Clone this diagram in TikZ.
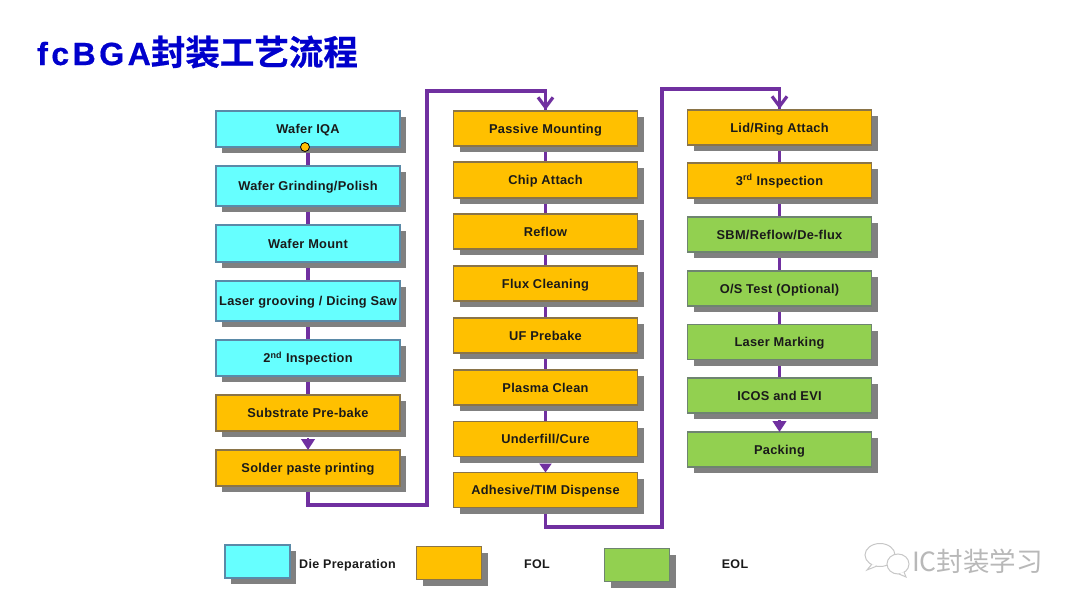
\documentclass[tikz,border=0pt]{standalone}
\usepackage{fontspec}
\setmainfont{Liberation Sans}
\newfontfamily\cjkf{Noto Sans CJK SC}[BoldFont={Noto Sans CJK SC Bold}]
\newfontfamily\titlecjk{Noto Sans CJK SC Bold}[FakeBold=0.6]
\newfontfamily\titlelat{Liberation Sans Bold}[FakeBold=0.6,LetterSpace=11]
\usetikzlibrary{shadows,backgrounds,arrows.meta}
\definecolor{cy}{HTML}{66FFFF}
\definecolor{og}{HTML}{FFC000}
\definecolor{gn}{HTML}{92D050}
\definecolor{pu}{HTML}{7030A0}
\definecolor{sh}{HTML}{808080}
\definecolor{ti}{HTML}{0000CC}
\definecolor{tx}{HTML}{1A1A1A}
\definecolor{cyb}{HTML}{5A8AA8}
\definecolor{ogb}{HTML}{8A7448}
\definecolor{gnb}{HTML}{6E8470}
\tikzset{
 x=1pt,y=-1pt,
 basebox/.style={draw,line width=1.2pt,minimum width=184pt,inner sep=0pt,outer sep=0pt,
   text height=9pt,text depth=0pt,
   font=\fontsize{12.8}{14}\selectfont\bfseries\addfontfeatures{LetterSpace=2.2},text=tx,
   general shadow={fill=sh,draw=none,shadow xshift=6pt,shadow yshift=-6pt}},
 cybox/.style={basebox,fill=cy,draw=cyb},
 ogbox/.style={basebox,fill=og,draw=ogb},
 gnbox/.style={basebox,fill=gn,draw=gnb},
 link/.style={draw=pu,line width=3.2pt},
 tipped/.style={link,-{Straight Barb[length=10pt,width=15pt,line width=3.2pt]}},
 solidtip/.style={link,line width=2.6pt,-{Triangle[length=9pt,width=12pt]}},
 bigtip/.style={link,line width=2.6pt,-{Triangle[length=11pt,width=13.5pt]}},
 legendlabel/.style={font=\fontsize{12.5}{14}\selectfont\bfseries\addfontfeatures{LetterSpace=2.6},text=tx,inner sep=0pt},
 bubble/.style={draw=black!22,line width=1pt,fill=white},
}
\begin{document}
\begin{tikzpicture}
\useasboundingbox (0,0) rectangle (1080,608);

\node[anchor=west,inner sep=0pt,text=ti] (title) at (37,52)
  {\fontsize{32}{34}\selectfont\titlelat fcBGA{\titlecjk\fontsize{34.5}{36}\selectfont 封装工艺流程}};

% left column
\node[cybox,minimum height=36pt] (a1) at (308,129) {Wafer IQA};
\node[cybox,minimum height=40pt] (a2) at (308,186) {Wafer Grinding/Polish};
\node[cybox,minimum height=37pt] (a3) at (308,243.5) {Wafer Mount};
\node[cybox,minimum height=40pt] (a4) at (308,301) {Laser grooving / Dicing Saw};
\node[cybox,minimum height=36pt] (a5) at (308,358) {2\textsuperscript{nd} Inspection};
\node[ogbox,minimum height=36pt] (a6) at (308,413) {Substrate Pre-bake};
\node[ogbox,minimum height=36pt] (a7) at (308,468) {Solder paste printing};

% middle column
\node[ogbox,minimum height=35pt] (b1) at (545.5,128.5) {Passive Mounting};
\node[ogbox,minimum height=36pt] (b2) at (545.5,180) {Chip Attach};
\node[ogbox,minimum height=35pt] (b3) at (545.5,231.5) {Reflow};
\node[ogbox,minimum height=35pt] (b4) at (545.5,283.5) {Flux Cleaning};
\node[ogbox,minimum height=35pt] (b5) at (545.5,335.5) {UF Prebake};
\node[ogbox,minimum height=35pt] (b6) at (545.5,387.5) {Plasma Clean};
\node[ogbox,minimum height=35pt] (b7) at (545.5,439) {Underfill/Cure};
\node[ogbox,minimum height=35pt] (b8) at (545.5,490) {Adhesive/TIM Dispense};

% right column
\node[ogbox,minimum height=35pt] (c1) at (779.5,127.5) {Lid/Ring Attach};
\node[ogbox,minimum height=35pt] (c2) at (779.5,180.5) {3\textsuperscript{rd} Inspection};
\node[gnbox,minimum height=35pt] (c3) at (779.5,234.5) {SBM/Reflow/De-flux};
\node[gnbox,minimum height=35pt] (c4) at (779.5,288.5) {O/S Test (Optional)};
\node[gnbox,minimum height=35pt] (c5) at (779.5,342) {Laser Marking};
\node[gnbox,minimum height=35pt] (c6) at (779.5,395.5) {ICOS and EVI};
\node[gnbox,minimum height=35pt] (c7) at (779.5,449.5) {Packing};

% connectors under the boxes and their shadows
\begin{scope}[on background layer]
\fill[white] (0,0) rectangle (1080,608);
\draw[link] (a1) -- (a2);
\draw[link] (a2) -- (a3);
\draw[link] (a3) -- (a4);
\draw[link] (a4) -- (a5);
\draw[link] (a5) -- (a6);
\draw[link] (b1) -- (b2);
\draw[link] (b2) -- (b3);
\draw[link] (b3) -- (b4);
\draw[link] (b4) -- (b5);
\draw[link] (b5) -- (b6);
\draw[link] (b6) -- (b7);
\draw[link] (c1) -- (c2);
\draw[link] (c2) -- (c3);
\draw[link] (c3) -- (c4);
\draw[link] (c4) -- (c5);
\draw[link] (c5) -- (c6);
\coordinate (r1) at (427,505);
\coordinate (r2) at (427,91);
\coordinate (r3) at (662,527);
\coordinate (r4) at (662,89);
\draw[link,line join=miter] (a7.south) |- (r1) -- (r2) -| (b1.north);
\draw[link,line join=miter] (b8.south) |- (r3) -- (r4) -| (c1.north);
\end{scope}
% arrow tips lie over the shadows
\draw[tipped,shorten >=1pt] (545.5,95) -- (b1.north);
\draw[tipped,shorten >=1pt] (779.5,93) -- (c1.north);
\draw[bigtip] (a6.south)++(0,7) -- (a7.north);
\draw[solidtip] (b7.south)++(0,8) -- (b8.north);
\draw[bigtip] (c6.south)++(0,7) -- (c7.north);

% yellow dot
\node[circle,fill=og,draw=black,line width=0.8pt,minimum size=9pt,inner sep=0pt] (dot) at (305,147) {};

% legend
\node[cybox,minimum width=65pt,minimum height=33pt] (l1) at (257.5,561.5) {};
\node[legendlabel,anchor=west] (l1t) at (299,565) {Die Preparation};
\node[ogbox,minimum width=65pt,minimum height=33pt] (l2) at (449,563) {};
\node[legendlabel,anchor=center] (l2t) at (537,564) {FOL};
\node[gnbox,minimum width=65pt,minimum height=33pt] (l3) at (637,565) {};
\node[legendlabel,anchor=center] (l3t) at (735,564) {EOL};

% watermark
\draw[bubble] (880,555) ellipse (15 and 11.5);
\draw[bubble] (872,564) -- (867,570) -- (877,566);
\draw[bubble] (898,564) ellipse (11 and 10);
\draw[bubble] (904,572) -- (906,577) -- (899,574);
\node[inner sep=0pt,anchor=west,text=black!28] (wm) at (912,561)
  {\fontsize{26.5}{28}\selectfont\cjkf IC封装学习};
\end{tikzpicture}
\end{document}
